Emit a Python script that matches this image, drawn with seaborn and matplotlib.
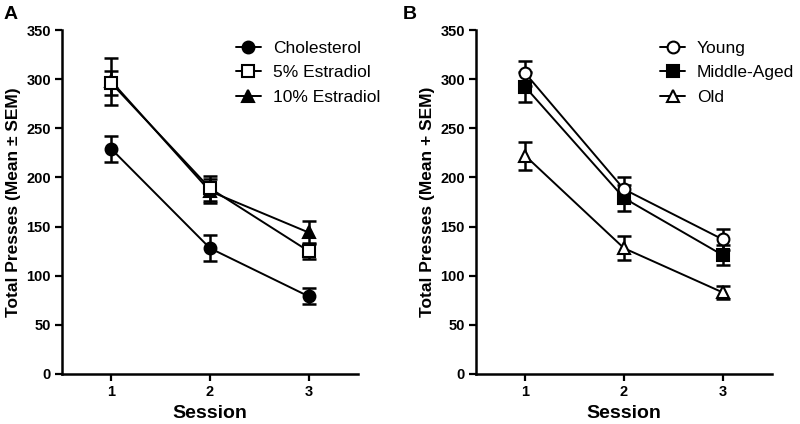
import numpy as np
import pandas as pd
import matplotlib
matplotlib.use("Agg")
import matplotlib.pyplot as plt
import seaborn as sns

sessions = [1, 2, 3]

groups_a = ["Cholesterol", "5% Estradiol", "10% Estradiol"]
chol_mean = [229, 128, 79]
chol_sem = [13, 13, 8]
e5_mean = [296, 189, 125]
e5_sem = [12, 13, 8]
e10_mean = [298, 186, 144]
e10_sem = [24, 12, 12]

groups_b = ["Young", "Middle-Aged", "Old"]
young_mean = [306, 188, 137]
young_sem = [13, 12, 11]
mid_mean = [292, 179, 121]
mid_sem = [15, 13, 10]
old_mean = [222, 128, 83]
old_sem = [14, 12, 7]

sns.set_theme(style="ticks")
plt.rcParams['font.family'] = ['Liberation Sans', 'DejaVu Sans']
plt.rcParams['text.color'] = 'black'
plt.rcParams['axes.labelcolor'] = 'black'
plt.rcParams['xtick.color'] = 'black'
plt.rcParams['ytick.color'] = 'black'

fig = plt.figure(figsize=(8, 4.24), dpi=100)
axA = fig.add_axes([0.0775, 0.118, 0.37, 0.811])
axB = fig.add_axes([0.595, 0.118, 0.37, 0.811])


def panel(ax, names, means, sems, markers, fills, zorders, ylabel, legx):
    rows = []
    for n, m, s in zip(names, means, sems):
        for x, mv, sv in zip(sessions, m, s):
            rows.append({"Session": x, "mean": mv, "sem": sv, "group": n})
    df = pd.DataFrame(rows)
    for n in names:
        d = df[df.group == n]
        ax.errorbar(d["Session"], d["mean"], yerr=d["sem"], fmt="none",
                    ecolor="black", elinewidth=1.8, capsize=5, capthick=1.8, zorder=2)
    for n, mk, fl, z in zip(names, markers, fills, zorders):
        d = df[df.group == n]
        sns.lineplot(data=d, x="Session", y="mean", ax=ax, color="black",
                     marker=mk, markersize=8.5, markerfacecolor=fl,
                     markeredgecolor="black", markeredgewidth=1.5,
                     linewidth=1.4, label=n, errorbar=None, zorder=z)
    ax.set_xlim(0.5, 3.5)
    ax.set_ylim(0, 350)
    ax.set_xticks(sessions)
    ax.set_yticks(range(0, 351, 50))
    ax.tick_params(axis="both", direction="out", length=5, width=1.6,
                   labelsize=10.5, color="black", labelcolor="black", pad=3)
    for lab in ax.get_xticklabels() + ax.get_yticklabels():
        lab.set_fontweight("bold")
    for sp in ["top", "right"]:
        ax.spines[sp].set_visible(False)
    for sp in ["left", "bottom"]:
        ax.spines[sp].set_linewidth(1.8)
        ax.spines[sp].set_color("black")
    ax.set_xlabel("Session", fontsize=14, fontweight="bold", labelpad=4, color="black")
    ax.set_ylabel(ylabel, fontsize=12.5, fontweight="bold", labelpad=4, color="black")
    ax.legend(loc="upper right", frameon=False, fontsize=12.5,
              handlelength=1.4, handletextpad=0.7, labelspacing=0.55,
              bbox_to_anchor=(legx, 1.0), borderaxespad=0.2)


panel(axA, groups_a, [chol_mean, e5_mean, e10_mean], [chol_sem, e5_sem, e10_sem],
      ["o", "s", "^"], ["black", "white", "black"], [3, 5, 4],
      "Total Presses (Mean ± SEM)", 1.11)
panel(axB, groups_b, [young_mean, mid_mean, old_mean], [young_sem, mid_sem, old_sem],
      ["o", "s", "^"], ["white", "black", "white"], [5, 4, 3],
      "Total Presses (Mean + SEM)", 1.11)

fig.text(0.004, 0.985, "A", fontsize=14, fontweight="bold", va="top")
fig.text(0.503, 0.985, "B", fontsize=14, fontweight="bold", va="top")

fig.savefig("out.png", dpi=100)
